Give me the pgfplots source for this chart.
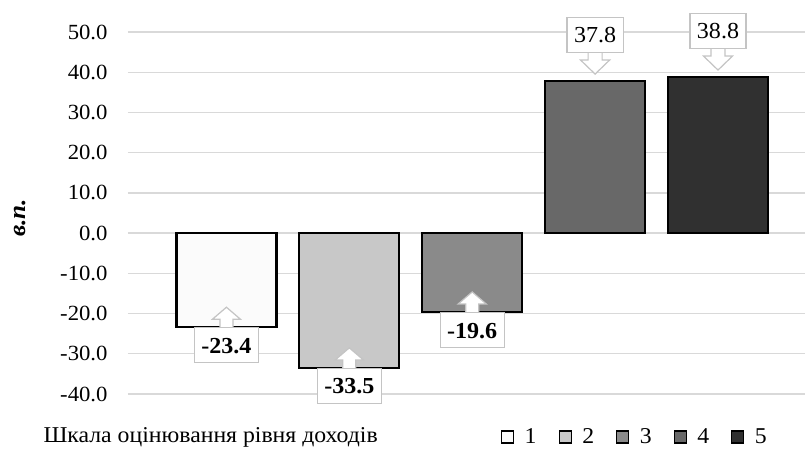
\documentclass[border=0pt]{standalone}
\usepackage{fontspec}
\setmainfont{Liberation Serif}[FakeStretch=1.05]
\usepackage{pgfplots}
\pgfplotsset{compat=1.18}
\definecolor{cgray}{HTML}{C4C4C4}
\definecolor{gridc}{HTML}{D9D9D9}
\definecolor{b1}{HTML}{FBFBFB}
\definecolor{b2}{HTML}{C8C8C8}
\definecolor{b3}{HTML}{8A8A8A}
\definecolor{b4}{HTML}{686868}
\definecolor{b5}{HTML}{303030}
\tikzset{
  cbox/.style={fill=white, draw=cgray, line width=1.2bp, inner xsep=7bp, inner ysep=0bp,
    minimum height=35bp, text height=16bp, text depth=0bp,
    font=\fontsize{23}{26}\selectfont},
  cup/.style={cbox, anchor=north,
    append after command={\pgfextra{%
      \fill[fill=white, draw=none] ([xshift=-6.5bp,yshift=-1.5bp]\tikzlastnode.north) -- ++(0bp,9.5bp) -- ++(-7.5bp,0bp) -- ++(14bp,12bp) -- ++(14bp,-12bp) -- ++(-7.5bp,0bp) -- ++(0bp,-9.5bp) -- cycle;
      \draw[draw=cgray, fill=none, line width=1.2bp, line join=miter] ([xshift=-6.5bp,yshift=-0.6bp]\tikzlastnode.north) -- ++(0bp,8.6bp) -- ++(-7.5bp,0bp) -- ++(14bp,12bp) -- ++(14bp,-12bp) -- ++(-7.5bp,0bp) -- ++(0bp,-8.6bp);
    }}},
  cdown/.style={cbox, anchor=south, yshift=28bp,
    append after command={\pgfextra{%
      \fill[fill=white, draw=none] ([xshift=-7bp,yshift=1.5bp]\tikzlastnode.south) -- ++(0bp,-8.5bp) -- ++(-7.5bp,0bp) -- ++(14.5bp,-14bp) -- ++(14.5bp,14bp) -- ++(-7.5bp,0bp) -- ++(0bp,8.5bp) -- cycle;
      \draw[draw=cgray, fill=none, line width=1.2bp, line join=miter] ([xshift=-7bp,yshift=0.6bp]\tikzlastnode.south) -- ++(0bp,-7.6bp) -- ++(-7.5bp,0bp) -- ++(14.5bp,-14bp) -- ++(14.5bp,14bp) -- ++(-7.5bp,0bp) -- ++(0bp,7.6bp);
    }}},
}
\begin{document}
\begin{tikzpicture}
\useasboundingbox (-128bp,-60bp) rectangle (677bp,394bp);
\begin{axis}[
  at={(0,0)}, anchor=south west,
  scale only axis, width=677bp, height=362bp,
  clip=false,
  ymin=-40, ymax=50, ytick={-40,-30,...,50},
  xmin=0.199, xmax=5.708, xtick=\empty,
  ymajorgrids, grid style={draw=gridc, line width=1.3bp},
  axis line style={draw=none}, major tick length=0pt,
  /pgf/number format/.cd, fixed, fixed zerofill, precision=1, assume math mode=true,
  /pgfplots/.cd,
  tick label style={font=\fontsize{21.7}{25}\selectfont},
  yticklabel style={xshift=-17bp},
  ylabel={\bfseries\itshape в.п.},
  every axis y label/.style={at={(axis description cs:-0.16,0.486)}, anchor=center, rotate=90, font=\fontsize{24}{28}\selectfont},
  xlabel={Шкала оцінювання рівня доходів},
  every axis x label/.style={at={(axis description cs:-0.130,-0.119)}, anchor=west, font=\fontsize{22.7}{26}\selectfont},
  ybar=0pt, bar width=100bp,
  every axis plot/.append style={bar shift=0pt, draw=black, line width=2.2bp},
  legend columns=5,
  legend style={at={(axis description cs:0.951,-0.119)}, anchor=east, draw=none, fill=none,
    font=\fontsize{22.7}{26}\selectfont,
    /tikz/every even column/.append style={column sep=20bp}},
  legend image code/.code={\draw[#1, line width=1.3bp] (0bp,-6bp) rectangle (12bp,6bp); \path[draw=none, fill=none] (0bp,-0.1bp) rectangle (21bp,0.1bp);},
  nodes near coords={\pgfmathprintnumber{\pgfplotspointmeta}},
]
\addplot[fill=b1, nodes near coords style={cup, font=\fontsize{23}{26}\selectfont\bfseries}] coordinates {(1,-23.4)};
\addlegendentry{1}
\addplot[fill=b2, nodes near coords style={cup, font=\fontsize{23}{26}\selectfont\bfseries}] coordinates {(2,-33.5)};
\addlegendentry{2}
\addplot[fill=b3, nodes near coords style={cup, font=\fontsize{23}{26}\selectfont\bfseries}] coordinates {(3,-19.6)};
\addlegendentry{3}
\addplot[fill=b4, nodes near coords style={cdown}] coordinates {(4,37.8)};
\addlegendentry{4}
\addplot[fill=b5, nodes near coords style={cdown}] coordinates {(5,38.8)};
\addlegendentry{5}
\end{axis}
\end{tikzpicture}
\end{document}
